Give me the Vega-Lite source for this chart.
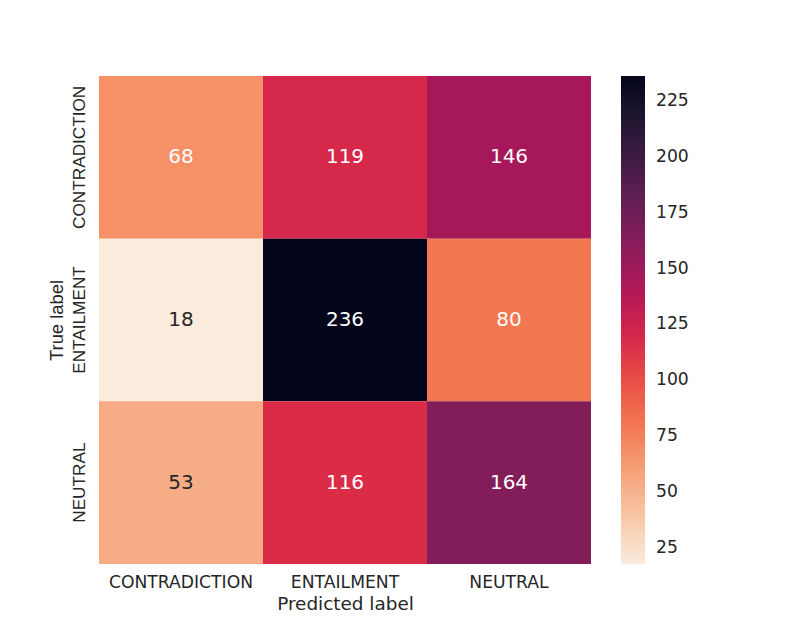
{
  "$schema": "https://vega.github.io/schema/vega-lite/v6.json",
  "autosize": {"type": "none"},
  "padding": {"left": 99, "top": 76, "right": 202, "bottom": 70},
  "width": 492,
  "height": 488,
  "background": "white",
  "config": {"view": {"stroke": null}},
  "data": {"values": [
    {"true": "CONTRADICTION", "pred": "CONTRADICTION", "count": 68},
    {"true": "CONTRADICTION", "pred": "ENTAILMENT", "count": 119},
    {"true": "CONTRADICTION", "pred": "NEUTRAL", "count": 146},
    {"true": "ENTAILMENT", "pred": "CONTRADICTION", "count": 18},
    {"true": "ENTAILMENT", "pred": "ENTAILMENT", "count": 236},
    {"true": "ENTAILMENT", "pred": "NEUTRAL", "count": 80},
    {"true": "NEUTRAL", "pred": "CONTRADICTION", "count": 53},
    {"true": "NEUTRAL", "pred": "ENTAILMENT", "count": 116},
    {"true": "NEUTRAL", "pred": "NEUTRAL", "count": 164}
  ]},
  "encoding": {
    "x": {
      "field": "pred", "type": "nominal",
      "sort": ["CONTRADICTION", "ENTAILMENT", "NEUTRAL"],
      "scale": {"paddingInner": 0, "paddingOuter": 0},
      "axis": {
        "title": "Predicted label", "labelAngle": 0, "ticks": false, "tickSize": 0, "domain": false,
        "labelFont": "DejaVu Sans", "labelFontSize": 17.2, "labelColor": "#262626", "labelPadding": 9,
        "titleFont": "DejaVu Sans", "titleFontSize": 18.4, "titleFontWeight": "normal", "titleColor": "#262626", "titlePadding": 4
      }
    },
    "y": {
      "field": "true", "type": "nominal",
      "sort": ["CONTRADICTION", "ENTAILMENT", "NEUTRAL"],
      "scale": {"paddingInner": 0, "paddingOuter": 0},
      "axis": {
        "title": "True label", "labelAngle": 270, "labelAlign": "center", "labelBaseline": "bottom",
        "ticks": false, "tickSize": 0, "domain": false,
        "labelFont": "Liberation Sans", "labelFontSize": 17.2, "labelColor": "#262626", "labelPadding": 11,
        "titleFont": "Liberation Sans", "titleFontSize": 18.4, "titleFontWeight": "normal", "titleColor": "#262626", "titlePadding": 4
      }
    }
  },
  "layer": [
    {
      "mark": {"type": "rect"},
      "encoding": {
        "color": {
          "field": "count", "type": "quantitative",
          "scale": {
            "domain": [18, 49.14, 80.29, 111.43, 142.57, 173.71, 204.86, 236],
            "range": ["#faebdd", "#f6b48f", "#f37651", "#e13342", "#ad1759", "#701f57", "#35193e", "#03051a"]
          },
          "legend": {
            "title": null, "type": "gradient", "direction": "vertical",
            "values": [25, 50, 75, 100, 125, 150, 175, 200, 225],
            "gradientLength": 488, "gradientThickness": 24, "gradientStrokeWidth": 0,
            "offset": 30, "padding": 0, "labelOverlap": false,
            "labelFont": "DejaVu Sans", "labelFontSize": 17.2, "labelColor": "#262626", "labelOffset": 11
          }
        }
      }
    },
    {
      "mark": {"type": "text", "font": "DejaVu Sans", "fontSize": 20},
      "encoding": {
        "text": {"field": "count", "type": "quantitative"},
        "color": {
          "condition": {"test": "datum.count > 60", "value": "#ffffff"},
          "value": "#262626"
        }
      }
    }
  ]
}
